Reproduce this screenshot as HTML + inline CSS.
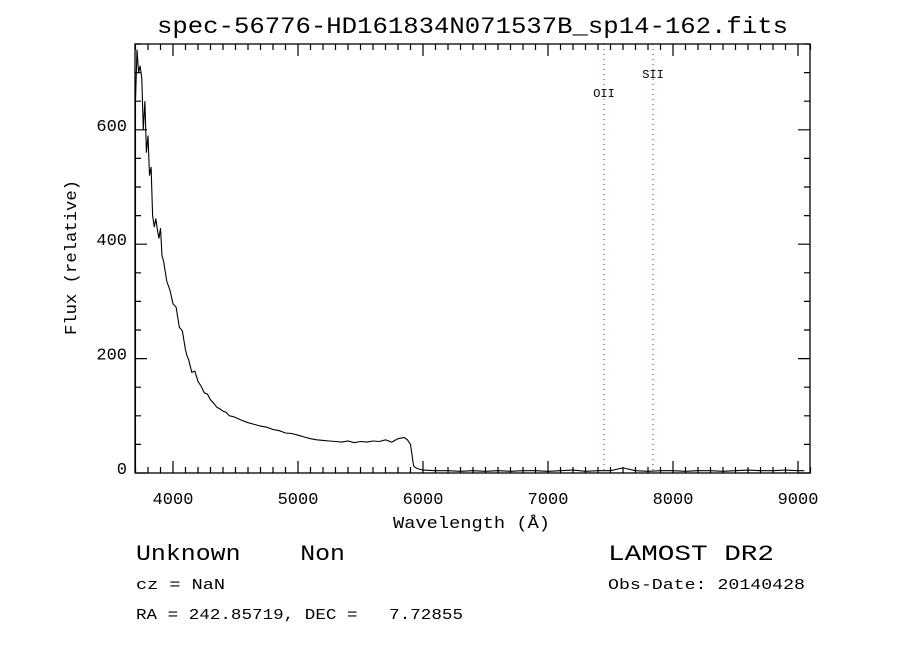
<!DOCTYPE html>
<html><head><meta charset="utf-8"><style>
body{margin:0;background:#fff}
svg text{font-family:"Liberation Mono","DejaVu Serif",monospace;fill:#000;white-space:pre}
</style></head><body>
<svg id="chart" width="900" height="650" viewBox="0 0 900 650" xmlns="http://www.w3.org/2000/svg" xml:space="preserve">
<rect width="900" height="650" fill="#fff"/>
<text x="157" y="33" font-size="23" textLength="631" lengthAdjust="spacingAndGlyphs">spec-56776-HD161834N071537B_sp14-162.fits</text>
<g id="axes"></g>
<g id="lines"></g>
<path id="spec" fill="none" stroke="#000" stroke-width="1.1"/>
<rect x="135" y="44" width="675" height="429" fill="none" stroke="#000" stroke-width="1.3"/>
<text x="393" y="528" font-size="17" textLength="157" lengthAdjust="spacingAndGlyphs">Wavelength (Å)</text>
<text transform="translate(76,335) rotate(-90)" font-size="17" textLength="155" lengthAdjust="spacingAndGlyphs">Flux (relative)</text>
<text x="136" y="560" font-size="22" textLength="209" lengthAdjust="spacingAndGlyphs">Unknown    Non</text>
<text x="608" y="560" font-size="22" textLength="166" lengthAdjust="spacingAndGlyphs">LAMOST DR2</text>
<text x="136" y="589" font-size="15" textLength="89" lengthAdjust="spacingAndGlyphs">cz = NaN</text>
<text x="608" y="589" font-size="15" textLength="197" lengthAdjust="spacingAndGlyphs">Obs-Date: 20140428</text>
<text x="136" y="619" font-size="15" textLength="327" lengthAdjust="spacingAndGlyphs">RA = 242.85719, DEC =   7.72855</text>
</svg>
<script>
const wavelengths=[3700,3712,3725,3737,3750,3762,3775,3787,3800,3812,3825,3837,3850,3862,3875,3887,3900,3912,3925,3950,3975,4000,4025,4050,4075,4100,4112,4125,4150,4175,4200,4225,4250,4275,4300,4325,4350,4375,4400,4425,4450,4475,4500,4550,4600,4650,4700,4750,4800,4850,4900,4950,5000,5050,5100,5150,5200,5250,5300,5350,5400,5450,5500,5550,5600,5650,5700,5750,5800,5850,5875,5900,5925,5950,6000,6100,6200,6300,6400,6500,6600,6700,6800,6900,7000,7100,7200,7300,7400,7500,7600,7700,7800,7900,8000,8100,8200,8300,8400,8500,8600,8700,8800,8900,9000,9050];
const fluxValues=[650,740,700,712,690,600,650,560,590,520,535,450,430,445,425,410,428,380,370,335,320,296,290,255,248,215,205,198,176,178,160,152,140,138,128,122,115,112,108,106,100,99,97,92,88,85,82,80,76,74,70,69,66,63,60,58,57,56,55,54,56,53,55,54,56,55,58,54,60,62,58,50,12,8,5,4,4,3,4,3,4,3,4,4,3,4,5,3,4,4,9,4,3,4,4,3,4,4,3,4,5,4,4,5,4,4];
const xTickLabels=[4000,5000,6000,7000,8000,9000];
const yTickLabels=[0,200,400,600];
const lineNames=["OII","SII"];
const lineWaves=[7448,7840];

const X0=135,X1=810,Y0=44,Y1=473,WMIN=3696,WMAX=9096,FMIN=0,FMAX=750;
const sx=w=>X0+(w-WMIN)/(WMAX-WMIN)*(X1-X0);
const sy=f=>Y1-(f-FMIN)/(FMAX-FMIN)*(Y1-Y0);
const NS="http://www.w3.org/2000/svg";
const axes=document.getElementById('axes');
function mk(tag,attrs,parent){const e=document.createElementNS(NS,tag);for(const k in attrs)e.setAttribute(k,attrs[k]);parent.appendChild(e);return e;}
let d='';
for(let w=3700;w<=9100;w+=100){const x=sx(w);const major=w%1000===0;const len=major?12:6;
 d+=`M${x},${Y1}v${-len}M${x},${Y0}v${len}`;}
for(let f=0;f<=750;f+=50){const y=sy(f);const major=f%200===0;const len=major?12:6;
 d+=`M${X0},${y}h${len}M${X1},${y}h${-len}`;}
const ticks=mk('path',{d:d,stroke:'#000','stroke-width':1.2,fill:'none'},axes);


xTickLabels.forEach(v=>{const t=mk('text',{x:sx(v),y:504,'font-size':17,'text-anchor':'middle'},axes);t.textContent=v;
 
 });
yTickLabels.forEach(v=>{const t=mk('text',{x:127,y:sy(v)+1,'font-size':17,'text-anchor':'end'},axes);t.textContent=v;
 
 });
const lg=document.getElementById('lines');
lineWaves.forEach((w,i)=>{const x=sx(w);
 const l=mk('line',{x1:x,x2:x,y1:Y0,y2:Y1,stroke:'#8b2020','stroke-width':1,'stroke-dasharray':'1,4'},lg);
 
 
 const t=mk('text',{x:x,y:i===0?97:78,'font-size':12,'text-anchor':'middle','font-family':'Liberation Serif,serif'},lg);t.textContent=lineNames[i];
 
 });
let p=`M${sx(wavelengths[0])},${Y1}`;
wavelengths.forEach((w,i)=>{p+=`L${sx(w).toFixed(1)},${Math.max(Y0,sy(fluxValues[i])).toFixed(1)}`;});
document.getElementById('spec').setAttribute('d',p);
</script>
</body></html>
